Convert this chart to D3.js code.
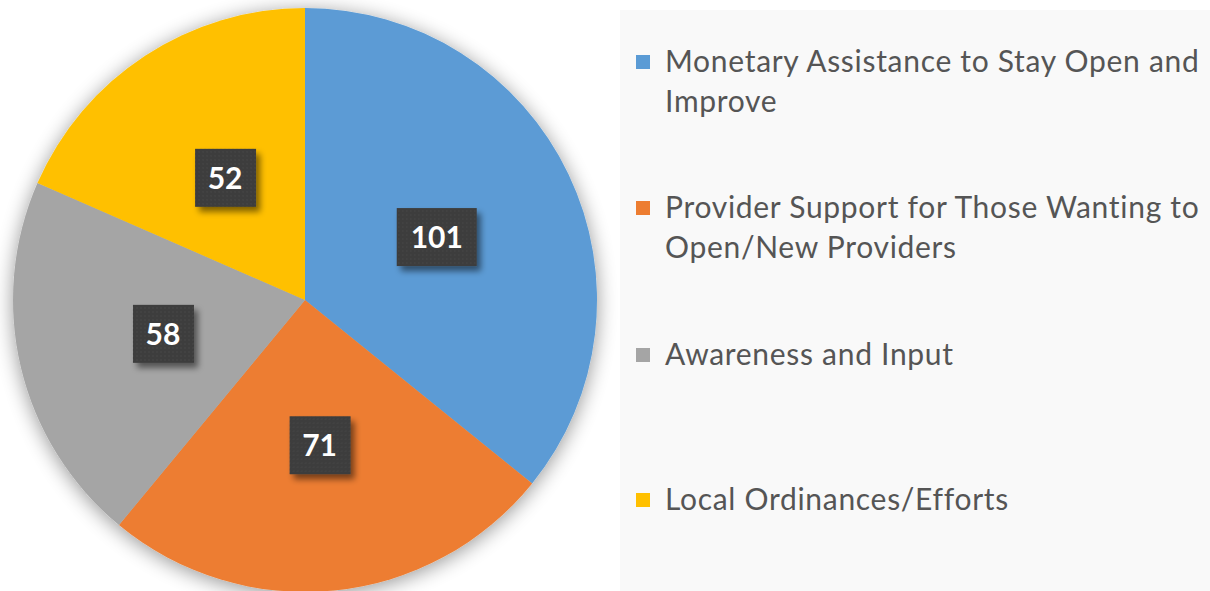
<!DOCTYPE html>
<html>
<head>
<meta charset="utf-8">
<script src="https://cdn.jsdelivr.net/npm/d3@7"></script>
<style>
  body { margin: 0; background: #fff; }
  svg { display: block; }
</style>
</head>
<body>
<div id="pie"></div>
<script>
// chart data
var categories = [
  "Monetary Assistance to Stay Open and Improve",
  "Provider Support for Those Wanting to Open/New Providers",
  "Awareness and Input",
  "Local Ordinances/Efforts"
];
var values = [101, 71, 58, 52];
var legendLines = [
  ["Monetary Assistance to Stay Open and", "Improve"],
  ["Provider Support for Those Wanting to", "Open/New Providers"],
  ["Awareness and Input"],
  ["Local Ordinances/Efforts"]
];
var colors = ["#5B9BD5", "#ED7D31", "#A5A5A5", "#FFC000"];

var width = 1210, height = 591;
var cx = 305, cy = 300, radius = 292;

var svg = d3.select("#pie")
  .append("svg")
    .attr("width", width)
    .attr("height", height);

var defs = svg.append("defs");

// soft glow/shadow around the pie
var glow = defs.append("filter")
  .attr("id", "glow")
  .attr("x", "-20%").attr("y", "-20%")
  .attr("width", "140%").attr("height", "140%");
glow.append("feGaussianBlur")
  .attr("in", "SourceAlpha")
  .attr("stdDeviation", 10)
  .attr("result", "blur");
glow.append("feOffset").attr("in", "blur").attr("dx", 0).attr("dy", 3).attr("result", "off");
glow.append("feComponentTransfer").attr("in", "off").attr("result", "soft")
  .append("feFuncA").attr("type", "linear").attr("slope", 0.42);
var gm = glow.append("feMerge");
gm.append("feMergeNode").attr("in", "soft");
gm.append("feMergeNode").attr("in", "SourceGraphic");

// shadow for the label boxes
var boxShadow = defs.append("filter")
  .attr("id", "boxshadow")
  .attr("x", "-30%").attr("y", "-30%")
  .attr("width", "170%").attr("height", "170%");
boxShadow.append("feGaussianBlur").attr("in", "SourceAlpha").attr("stdDeviation", 3).attr("result", "b");
boxShadow.append("feOffset").attr("in", "b").attr("dx", 4).attr("dy", 5).attr("result", "o");
boxShadow.append("feComponentTransfer").attr("in", "o").attr("result", "s")
  .append("feFuncA").attr("type", "linear").attr("slope", 0.5);
var bm = boxShadow.append("feMerge");
bm.append("feMergeNode").attr("in", "s");
bm.append("feMergeNode").attr("in", "SourceGraphic");

// dotted texture for label boxes
var pat = defs.append("pattern")
  .attr("id", "dots")
  .attr("width", 4).attr("height", 4)
  .attr("patternUnits", "userSpaceOnUse");
pat.append("rect").attr("width", 4).attr("height", 4).attr("fill", "#3c3c3c");
pat.append("circle").attr("cx", 2).attr("cy", 2).attr("r", 0.8).attr("fill", "#4c4c4c");

// legend panel
svg.append("rect")
  .attr("x", 620)
  .attr("y", 10)
  .attr("width", width - 620)
  .attr("height", height)
  .attr("fill", "#f9f9f9");

var pie = d3.pie().sort(null).value(function(d) { return d; });
var arc = d3.arc().innerRadius(0).outerRadius(radius);
var labelArc = d3.arc().innerRadius(radius * 0.5).outerRadius(radius * 0.5);

var arcs = pie(values);

var g = svg.append("g")
  .attr("transform", "translate(" + cx + "," + cy + ")");

g.append("g")
  .attr("filter", "url(#glow)")
  .selectAll("path")
  .data(arcs)
  .enter()
  .append("path")
    .attr("d", arc)
    .attr("fill", function(d, i) { return colors[i]; });

// data labels
var labels = g.selectAll(".lbl")
  .data(arcs)
  .enter()
  .append("g")
    .attr("class", "lbl")
    .attr("transform", function(d) {
      var c = labelArc.centroid(d);
      return "translate(" + c[0] + "," + c[1] + ")";
    });

labels.append("rect")
  .attr("x", function(d) { return d.data >= 100 ? -40 : -30; })
  .attr("y", -29)
  .attr("width", function(d) { return d.data >= 100 ? 80 : 61; })
  .attr("height", 58)
  .attr("fill", "url(#dots)")
  .attr("filter", "url(#boxshadow)");

labels.append("text")
  .attr("text-anchor", "middle")
  .attr("dy", "0.36em")
  .attr("font-family", "Lato, 'Open Sans', sans-serif")
  .attr("font-weight", "bold")
  .style("font-size", "30px")
  .attr("fill", "#ffffff")
  .text(function(d) { return d.data; });

// legend
var legendY = [62, 208, 355, 500];
var legend = svg.append("g").attr("class", "legend");

var items = legend.selectAll("g")
  .data(categories)
  .enter()
  .append("g")
    .attr("transform", function(d, i) { return "translate(636," + legendY[i] + ")"; });

items.append("rect")
  .attr("x", 0)
  .attr("y", -7)
  .attr("width", 14)
  .attr("height", 14)
  .attr("fill", function(d, i) { return colors[i]; });

items.append("text")
  .attr("x", 29)
  .attr("y", 0)
  .attr("font-family", "Lato, 'Open Sans', sans-serif")
  .style("font-size", "30px")
  .style("letter-spacing", "0.7px")
  .attr("fill", "#555555")
  .selectAll("tspan")
  .data(function(d, i) { return legendLines[i]; })
  .enter()
  .append("tspan")
    .attr("x", 29)
    .attr("dy", function(d, j) { return j === 0 ? "0.34em" : "40px"; })
    .text(function(d) { return d; });
</script>
</body>
</html>
